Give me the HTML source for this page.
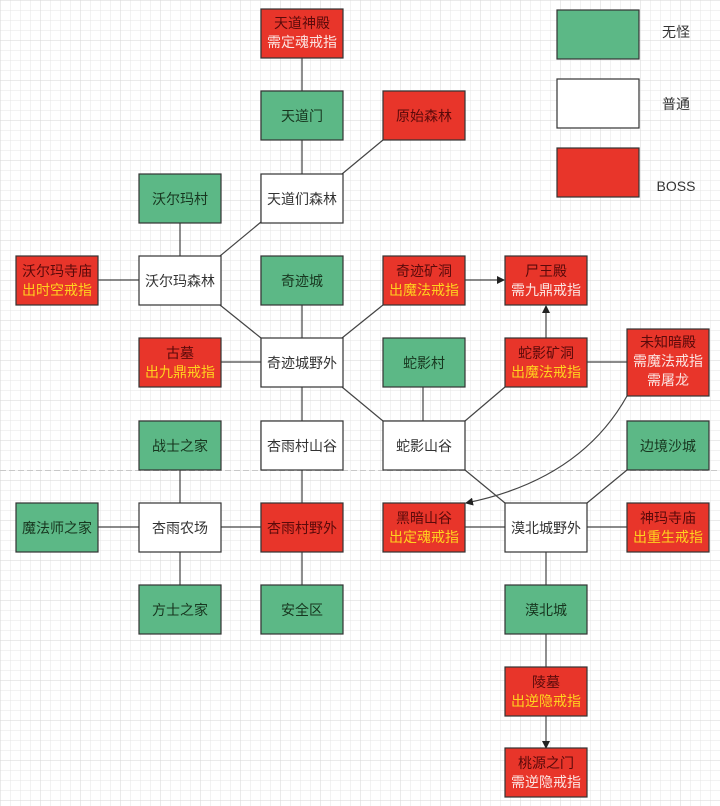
<!DOCTYPE html>
<html><head><meta charset="utf-8"><style>
html,body{margin:0;padding:0;background:#fff;}
svg{display:block;}
text{font-family:"Liberation Sans","Noto Sans CJK SC","WenQuanYi Zen Hei",sans-serif;font-size:14px;text-anchor:middle;}
</style></head><body>
<svg width="720" height="806" viewBox="0 0 720 806" xmlns="http://www.w3.org/2000/svg">
<defs>
<pattern id="g" width="10" height="10" patternUnits="userSpaceOnUse"><path d="M10 0H0V10" fill="none" stroke="#e4e4e4" stroke-width="1"/></pattern>
<pattern id="G" width="40" height="40" patternUnits="userSpaceOnUse"><path d="M40 0H0V40" fill="none" stroke="#d6d6d6" stroke-width="1"/></pattern>
<marker id="a" markerWidth="8" markerHeight="8" refX="7" refY="4" orient="auto" markerUnits="userSpaceOnUse"><path d="M0 0L8 4L0 8z" fill="#222"/></marker>
</defs>
<rect width="720" height="806" fill="url(#g)"/>
<rect width="720" height="806" fill="url(#G)"/>
<line x1="0" y1="470.5" x2="720" y2="470.5" stroke="#c8c8c8" stroke-dasharray="6 3"/>
<g stroke="#444" stroke-width="1.2" fill="none">
<line x1="302" y1="58" x2="302" y2="91"/>
<line x1="302" y1="140" x2="302" y2="174"/>
<line x1="383" y1="140" x2="342" y2="174"/>
<line x1="180" y1="222" x2="180" y2="256"/>
<line x1="220" y1="256" x2="261" y2="222"/>
<line x1="98" y1="280" x2="139" y2="280"/>
<line x1="220" y1="305" x2="261" y2="338"/>
<line x1="302" y1="305" x2="302" y2="338"/>
<line x1="383" y1="305" x2="342" y2="338"/>
<line x1="220" y1="362" x2="261" y2="362"/>
<line x1="342" y1="387" x2="383" y2="421"/>
<line x1="302" y1="387" x2="302" y2="421"/>
<line x1="465" y1="280" x2="504" y2="280" marker-end="url(#a)"/>
<line x1="546" y1="338" x2="546" y2="306" marker-end="url(#a)"/>
<line x1="423" y1="387" x2="423" y2="421"/>
<line x1="505" y1="387" x2="465" y2="421"/>
<line x1="587" y1="362" x2="627" y2="362"/>
<path d="M627 396 Q580 480 466 503" marker-end="url(#a)"/>
<line x1="465" y1="470" x2="505" y2="503"/>
<line x1="627" y1="470" x2="587" y2="503"/>
<line x1="465" y1="527" x2="505" y2="527"/>
<line x1="587" y1="527" x2="627" y2="527"/>
<line x1="546" y1="552" x2="546" y2="585"/>
<line x1="546" y1="634" x2="546" y2="667"/>
<line x1="546" y1="715" x2="546" y2="748" marker-end="url(#a)"/>
<line x1="302" y1="470" x2="302" y2="503"/>
<line x1="302" y1="552" x2="302" y2="585"/>
<line x1="220" y1="527" x2="261" y2="527"/>
<line x1="98" y1="527" x2="139" y2="527"/>
<line x1="180" y1="470" x2="180" y2="503"/>
<line x1="180" y1="552" x2="180" y2="585"/>
</g>
<g stroke="#333" stroke-width="1.2">
<!-- green -->
<g fill="#5cb886">
<rect x="261" y="91" width="82" height="49"/>
<rect x="139" y="174" width="82" height="49"/>
<rect x="261" y="256" width="82" height="49"/>
<rect x="383" y="338" width="82" height="49"/>
<rect x="139" y="421" width="82" height="49"/>
<rect x="627" y="421" width="82" height="49"/>
<rect x="16" y="503" width="82" height="49"/>
<rect x="139" y="585" width="82" height="49"/>
<rect x="261" y="585" width="82" height="49"/>
<rect x="505" y="585" width="82" height="49"/>
<rect x="557" y="10" width="82" height="49"/>
</g>
<g fill="#fff">
<rect x="261" y="174" width="82" height="49"/>
<rect x="139" y="256" width="82" height="49"/>
<rect x="261" y="338" width="82" height="49"/>
<rect x="261" y="421" width="82" height="49"/>
<rect x="383" y="421" width="82" height="49"/>
<rect x="139" y="503" width="82" height="49"/>
<rect x="505" y="503" width="82" height="49"/>
<rect x="557" y="79" width="82" height="49"/>
</g>
<g fill="#e8352a">
<rect x="261" y="9" width="82" height="49"/>
<rect x="383" y="91" width="82" height="49"/>
<rect x="16" y="256" width="82" height="49"/>
<rect x="383" y="256" width="82" height="49"/>
<rect x="505" y="256" width="82" height="49"/>
<rect x="139" y="338" width="82" height="49"/>
<rect x="505" y="338" width="82" height="49"/>
<rect x="627" y="329" width="82" height="67"/>
<rect x="261" y="503" width="82" height="49"/>
<rect x="383" y="503" width="82" height="49"/>
<rect x="627" y="503" width="82" height="49"/>
<rect x="505" y="667" width="82" height="49"/>
<rect x="505" y="748" width="82" height="49"/>
<rect x="557" y="148" width="82" height="49"/>
</g>
</g>
<!-- green text -->
<g fill="#17361f">
<text x="302" y="121">天道门</text>
<text x="180" y="204">沃尔玛村</text>
<text x="302" y="286">奇迹城</text>
<text x="424" y="368">蛇影村</text>
<text x="180" y="451">战士之家</text>
<text x="668" y="451">边境沙城</text>
<text x="57" y="533">魔法师之家</text>
<text x="180" y="615">方士之家</text>
<text x="302" y="615">安全区</text>
<text x="546" y="615">漠北城</text>
</g>
<g fill="#333">
<text x="302" y="204">天道们森林</text>
<text x="180" y="286">沃尔玛森林</text>
<text x="302" y="368">奇迹城野外</text>
<text x="302" y="451">杏雨村山谷</text>
<text x="424" y="451">蛇影山谷</text>
<text x="180" y="533">杏雨农场</text>
<text x="546" y="533">漠北城野外</text>
<text x="676" y="37">无怪</text>
<text x="676" y="109">普通</text>
<text x="676" y="191">BOSS</text>
</g>
<g fill="#5a0a0a">
<text x="302" y="28">天道神殿</text>
<text x="424" y="121">原始森林</text>
<text x="57" y="276">沃尔玛寺庙</text>
<text x="424" y="276">奇迹矿洞</text>
<text x="546" y="276">尸王殿</text>
<text x="180" y="358">古墓</text>
<text x="546" y="358">蛇影矿洞</text>
<text x="668" y="347">未知暗殿</text>
<text x="302" y="533">杏雨村野外</text>
<text x="424" y="523">黑暗山谷</text>
<text x="668" y="523">神玛寺庙</text>
<text x="546" y="687">陵墓</text>
<text x="546" y="768">桃源之门</text>
</g>
<g fill="#ffd21f">
<text x="57" y="295">出时空戒指</text>
<text x="424" y="295">出魔法戒指</text>
<text x="180" y="377">出九鼎戒指</text>
<text x="546" y="377">出魔法戒指</text>
<text x="424" y="542">出定魂戒指</text>
<text x="668" y="542">出重生戒指</text>
<text x="546" y="706">出逆隐戒指</text>
</g>
<g fill="#fbe3e0">
<text x="302" y="47">需定魂戒指</text>
<text x="546" y="295">需九鼎戒指</text>
<text x="668" y="366">需魔法戒指</text>
<text x="668" y="385">需屠龙</text>
<text x="546" y="787">需逆隐戒指</text>
</g>
</svg>
</body></html>
